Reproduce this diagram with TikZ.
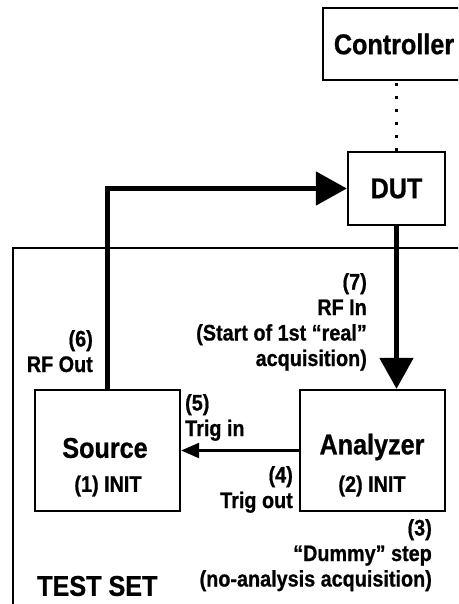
\documentclass[tikz,border=0pt]{standalone}
\usepackage{fontspec}
\setmainfont{Liberation Sans}[FakeStretch=0.88,BoldFeatures={FakeBold=0.8}]
\usetikzlibrary{arrows.meta}
\begin{document}
\begin{tikzpicture}[x=1pt,y=-1pt,
  box/.style={draw,line width=2.3pt,rectangle,inner sep=0pt},
  head/.style={font=\fontsize{28.6}{32}\selectfont\bfseries,inner sep=0pt},
  lbl/.style={font=\fontsize{22.5}{25.5}\selectfont\bfseries,inner sep=0pt},
  thickarrow/.style={line width=5pt,-{Triangle[length=31pt,width=33pt]}},
  thinarrow/.style={line width=2.2pt,-{Triangle[length=18pt,width=15pt]}}]
\useasboundingbox (0,0) rectangle (458,604);
\clip (0,0) rectangle (458,604);
\fill[white] (0,0) rectangle (458,604);
% frame of the test set
\node[box,minimum width=470pt,minimum height=400pt,anchor=north west] (testset) at (12,247) {};
% boxes
\node[box,minimum width=150pt,minimum height=72pt] (Controller) at (398,44) {};
\node[box,minimum width=97pt,minimum height=73pt] (DUT) at (396.5,188.5) {};
\node[box,minimum width=145pt,minimum height=121pt] (Source) at (107.5,450.5) {};
\node[box,minimum width=145pt,minimum height=121pt] (Analyzer) at (372.5,450.5) {};
% box texts
\node[head] (tctrl) at (394,44) {Controller};
\node[head] (tdut) at (DUT.center) {DUT};
\node[head] (tsrc) at (105,448) {Source};
\node[lbl] (tsrcinit) at (108,486) {(1) INIT};
\node[head] (tana) at (372,447) {Analyzer};
\node[lbl] (tanainit) at (372,486) {(2) INIT};
\node[head,anchor=west] (ttest) at (37,586) {TEST SET};
% connectors
\draw[line width=3pt,dash pattern=on 3pt off 10pt] (DUT.north) -- (DUT.north |- Controller.south);
\draw[thickarrow] (Source.north) |- (DUT.west);
\draw[thickarrow] (DUT.south) -- (DUT.south |- Analyzer.north);
\draw[thinarrow] (Analyzer.west) -- (Source.east);
% labels
\node[lbl,align=right,anchor=north east] (l7) at (367,273) {(7)\\RF In\\(Start of 1st “real”\\acquisition)};
\node[lbl,align=right,anchor=north east] (l6) at (93,330) {(6)\\RF Out};
\node[lbl,align=left,anchor=north west] (l5) at (185,394) {(5)\\Trig in};
\node[lbl,align=right,anchor=north east] (l4) at (293,466) {(4)\\Trig out};
\node[lbl,align=right,anchor=north east] (l3) at (432,519) {(3)\\“Dummy” step\\(no-analysis acquisition)};
\end{tikzpicture}
\end{document}
